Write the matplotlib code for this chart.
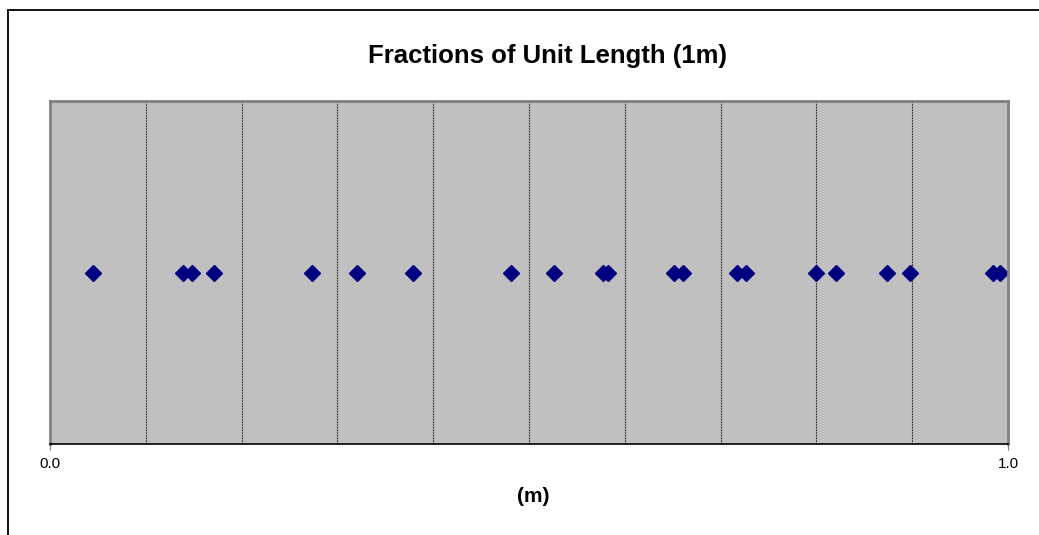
import numpy as np
import matplotlib.pyplot as plt
from matplotlib.patches import Rectangle

plt.rcParams['font.family'] = ['Liberation Sans', 'DejaVu Sans']

# positions of the fractions along the unit length (m)
fractions = [0.045, 0.139, 0.148, 0.171, 0.274, 0.320, 0.379, 0.481,
             0.526, 0.577, 0.582, 0.651, 0.661, 0.717, 0.726, 0.800,
             0.820, 0.874, 0.898, 0.984, 0.992]
grid_pos = [0.1, 0.2, 0.3, 0.4, 0.5, 0.6, 0.7, 0.8, 0.9]
tick_pos = [0.0, 1.0]
tick_labels = ['0.0', '1.0']

fig = plt.figure(figsize=(10.39, 5.35), dpi=100)

# outer chart border (runs off the right and bottom edge)
fig.patches.append(Rectangle((8 / 1039, -0.1), 1.2, 1 - 10 / 535 + 0.1,
                             transform=fig.transFigure, fill=False,
                             edgecolor='black', linewidth=1.3))

ax = fig.add_axes([50 / 1039, 1 - 444 / 535, 958 / 1039, 343 / 535])
ax.set_facecolor('#c0c0c0')

for g in grid_pos:
    ax.axvline(g, color='black', linestyle=(0, (1.2, 1.2)), linewidth=0.8)

ax.plot(fractions, np.ones(len(fractions)), linestyle='none', marker='D',
        markersize=8, color='#000080')

ax.set_xlim(0, 1)
ax.set_ylim(0, 2)
ax.set_yticks([])
ax.set_xticks(tick_pos)
ax.set_xticklabels(tick_labels, fontsize=11)
ax.tick_params(axis='x', length=4, color='#808080', pad=5)

for s in ['left', 'top', 'right']:
    ax.spines[s].set_color('#808080')
    ax.spines[s].set_linewidth(2)
ax.spines['bottom'].set_color('black')
ax.spines['bottom'].set_linewidth(1.2)

fig.text(548 / 1039, 1 - 56 / 535, 'Fractions of Unit Length (1m)',
         ha='center', va='center', fontsize=18.5, fontweight='bold')
fig.text(533 / 1039, 1 - 497 / 535, '(m)', ha='center', va='center',
         fontsize=15, fontweight='bold')

fig.savefig('out.png', dpi=100)
